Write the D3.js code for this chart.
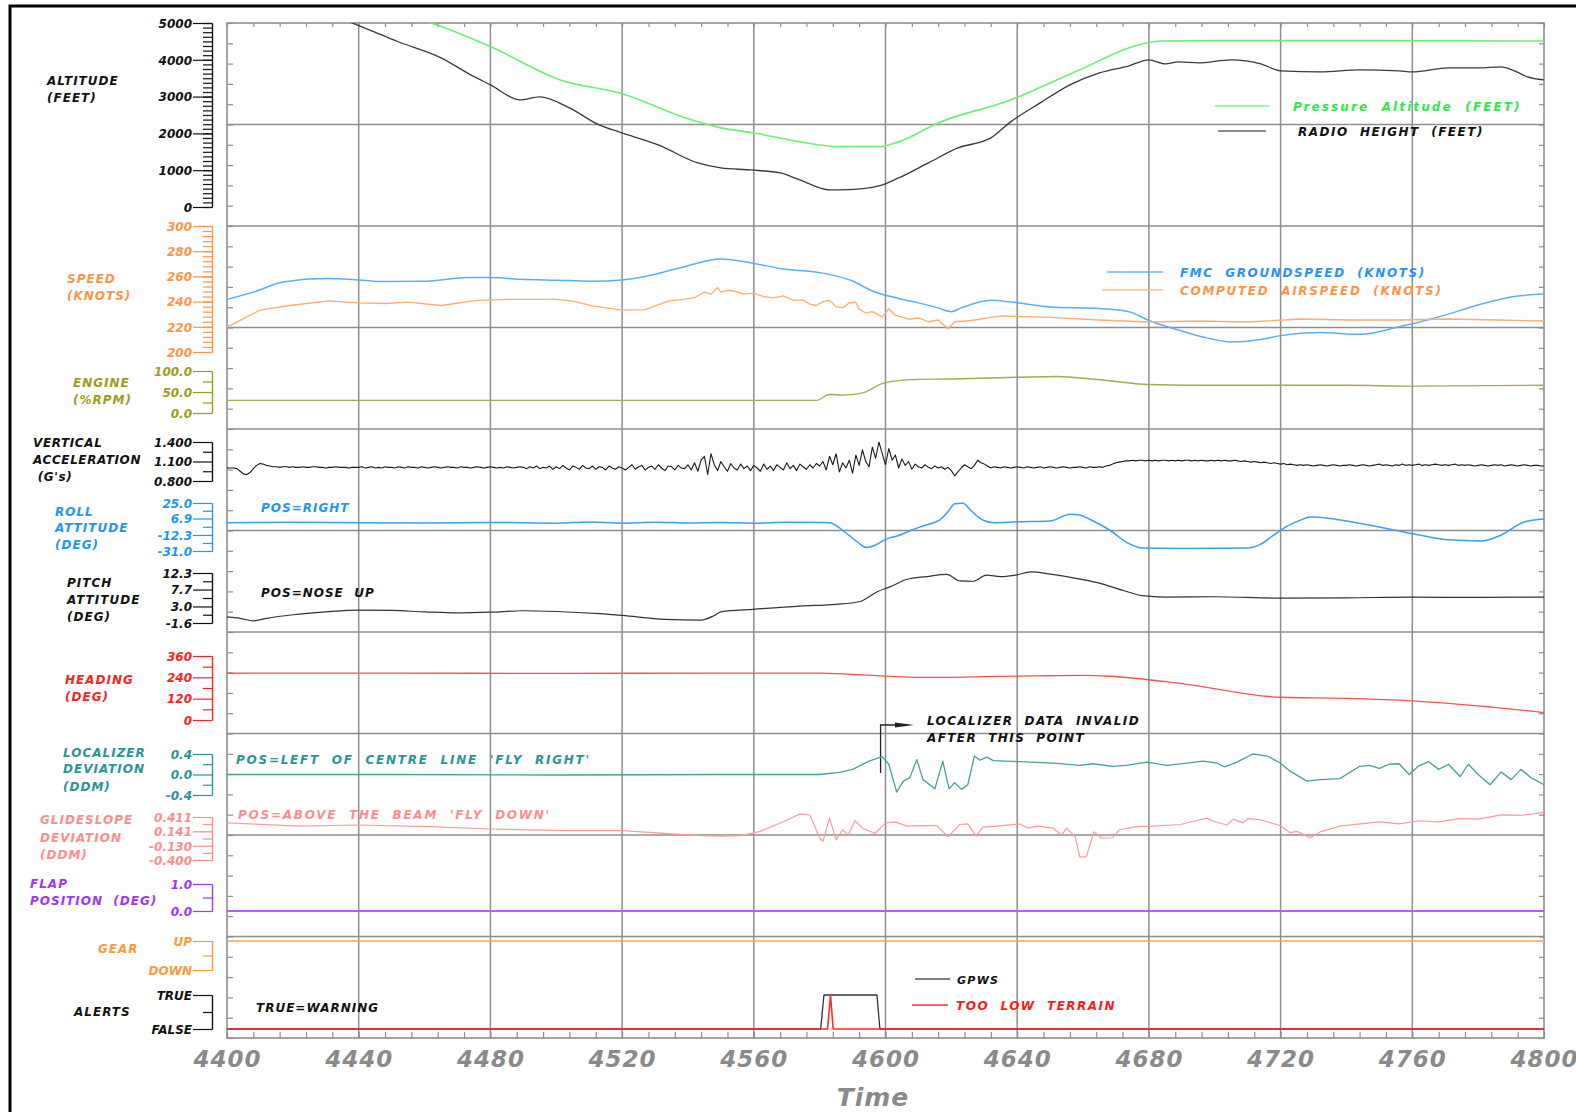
<!DOCTYPE html>
<html>
<head>
<meta charset="utf-8">
<script src="https://cdn.jsdelivr.net/npm/d3@7"></script>
<style>
body { margin: 0; background: #fff; }
svg text { font-family: "DejaVu Sans", sans-serif; font-weight: bold; font-style: italic; white-space: pre; }
</style>
</head>
<body>
<svg id="chart" width="1576" height="1112"></svg>
<script>
// ---------------------------------------
// Data
// ---------------------------------------
var timeLabels = [4400, 4440, 4480, 4520, 4560, 4600, 4640, 4680, 4720, 4760, 4800];

var pressureAlt = [[4400,6400],[4420,5900],[4440,5450],[4462,5000],[4480,4360],[4501,3460],[4520,3080],
    [4541,2370],[4550,2150],[4560,2010],[4574,1770],[4586,1640],[4598,1640],[4604,1770],[4616,2285],
    [4638,2910],[4659,3730],[4677,4410],[4684,4510],[4700,4520],[4750,4520],[4800,4510]];

var radioHeight = [[4400,6300],[4420,5650],[4438,5000],[4443,4820],[4452,4490],[4465,4054],[4474,3592],
    [4480,3320],[4489,2911],[4495,2993],[4504,2694],[4513,2231],[4519,2040],[4531,1687],[4543,1197],
    [4550,1061],[4559,1007],[4568,925],[4574,735],[4583,463],[4589,470],[4598,571],[4604,789],
    [4613,1197],[4622,1605],[4632,1877],[4638,2313],[4647,2830],[4656,3320],[4665,3646],[4674,3837],
    [4680,4000],[4685,3891],[4689,3945],[4695,3918],[4705,4000],[4714,3891],[4720,3700],[4732,3673],
    [4744,3728],[4756,3700],[4760,3673],[4771,3782],[4780,3782],[4787,3810],[4791,3700],[4795,3537],[4800,3456]];

var groundSpeed = [[4400,241.7],[4409,248.4],[4417,255.6],[4430,258.3],[4440,257.2],[4448,255.9],[4461,256.2],
    [4473,259.1],[4480,259.1],[4489,257.8],[4500,257],[4511,256.2],[4520,257.2],[4527,260],[4538,267.1],
    [4550,273.8],[4560,270.3],[4568,266.3],[4581,262.6],[4590,256.4],[4596,248.4],[4604,242.5],
    [4610,239],[4616,235],[4620,232],[4623,235],[4632,241],[4638,239.7],[4650,235.7],[4665,234.5],
    [4674,232],[4680,225],[4689,217.5],[4698,211],[4705,208],[4714,210],[4720,213],[4732,215.5],
    [4744,214],[4756,220],[4768,227.8],[4780,237.3],[4790,243.7],[4800,246]];

var airSpeed = [[4400,219.8],[4410,233.2],[4419,236.9],[4431,240.6],[4440,239],[4448,238.5],[4455,239.6],
    [4465,236.9],[4476,241],[4486,241.7],[4500,241.7],[4505,240.4],[4511,236.6],[4520,233.2],[4527,233.7],
    [4534,240.4],[4538,241.5],[4542,243.1],[4545,247.6],[4547,246],[4549,251.1],[4550,247.6],[4552,249],
    [4554,248.4],[4557,246],[4560,246.6],[4563,244],[4566,243],[4569,244.5],[4572,241],[4575,241.3],
    [4577,238],[4579,236.9],[4581,240],[4583,241],[4585,236],[4587,235],[4589,239],[4591,239.5],
    [4592,234],[4594,231],[4596,232],[4599,227.9],[4601,234.3],[4603,229],[4604,228.4],[4607,226],
    [4610,227],[4613,224],[4616,225.4],[4619,218.5],[4621,224],[4626,225],[4635,228.6],[4650,227.5],
    [4665,225.4],[4680,223.8],[4695,224.6],[4710,223.8],[4726,226.2],[4741,225.4],[4756,225.4],
    [4771,226.2],[4786,225.4],[4800,224.6]];

var engineRpm = [[4400,30],[4450,30],[4500,30],[4540,30],[4579,30],[4583,44],[4587,42.6],[4593,48],
    [4599,70],[4604,77],[4610,80],[4620,81],[4640,85],[4652,87],[4665,79],[4680,68],[4700,66],
    [4740,66],[4760,64],[4800,66]];

// vertical acceleration, one value per second from 4400 to 4800
var vertAccelStart = 4400;
var vertAccel = [
    1.00,1.00,1.00,0.99,0.95,0.91,0.90,0.93,0.99,1.04,1.07,1.06,1.04,1.03,1.02,1.02,1.01,1.02,1.02,1.01,
    1.02,1.01,1.01,1.02,1.01,1.01,1.02,1.02,1.01,1.01,1.00,1.01,1.01,1.02,1.01,1.01,1.01,1.00,1.01,1.01,
    1.01,1.02,1.00,1.01,1.02,1.00,1.01,1.00,1.02,1.01,1.01,1.00,1.02,1.01,1.00,1.02,1.01,1.01,1.00,1.02,
    1.01,1.00,1.01,1.02,1.01,1.00,1.01,1.02,1.01,1.01,1.00,1.02,1.01,1.01,1.00,1.01,1.02,1.01,1.00,1.01,
    1.02,1.01,1.00,1.01,1.00,1.02,1.01,1.00,1.01,1.02,1.01,0.99,1.02,1.00,1.03,0.99,1.01,1.00,1.03,0.98,
    1.02,0.99,1.04,1.00,0.97,1.03,1.01,0.98,1.04,1.00,0.99,1.03,0.98,1.02,1.01,0.97,1.03,1.00,0.98,1.02,
    1.00,0.97,1.01,1.05,0.98,1.02,1.04,0.97,1.01,1.03,0.98,1.05,1.00,0.96,1.03,1.02,0.97,1.04,1.00,0.99,
    1.05,0.97,1.08,0.95,1.12,1.18,0.90,1.22,1.05,0.96,1.10,1.02,0.95,1.07,1.00,0.97,1.06,0.99,1.03,0.96,
    1.04,1.00,0.95,1.06,0.98,1.03,0.96,1.05,1.01,0.97,1.08,0.99,1.04,0.96,1.06,1.02,0.98,1.05,1.00,1.07,
    1.03,1.10,0.97,1.18,1.05,1.22,0.94,1.08,1.00,1.12,0.92,1.20,1.04,1.28,1.10,1.02,1.32,1.15,1.40,1.22,
    1.05,1.30,1.12,1.20,1.00,1.14,1.04,1.10,0.98,1.06,1.02,1.00,1.05,1.01,0.99,1.03,1.00,1.02,0.98,1.01,
    0.96,0.88,0.94,1.00,1.05,1.02,0.99,1.04,1.12,1.08,1.06,1.03,1.00,1.02,1.01,1.00,1.02,1.01,1.00,1.01,
    1.02,1.01,1.00,1.02,1.01,1.00,1.01,1.02,1.00,1.01,1.02,1.01,1.00,1.01,1.02,1.01,1.00,1.01,1.01,1.02,
    1.01,1.00,1.02,1.01,1.01,1.02,1.01,1.03,1.04,1.06,1.08,1.09,1.10,1.11,1.11,1.12,1.11,1.12,1.12,1.11,
    1.12,1.11,1.12,1.11,1.12,1.12,1.11,1.12,1.11,1.12,1.11,1.12,1.12,1.11,1.12,1.11,1.12,1.11,1.11,1.12,
    1.11,1.12,1.11,1.12,1.11,1.11,1.12,1.11,1.10,1.11,1.10,1.09,1.10,1.09,1.08,1.09,1.08,1.07,1.08,1.07,
    1.06,1.07,1.05,1.06,1.05,1.04,1.05,1.04,1.05,1.04,1.03,1.04,1.05,1.04,1.03,1.04,1.05,1.04,1.03,1.04,
    1.04,1.05,1.04,1.03,1.04,1.05,1.04,1.03,1.04,1.05,1.06,1.04,1.05,1.04,1.03,1.05,1.04,1.06,1.04,1.05,
    1.04,1.05,1.06,1.04,1.05,1.04,1.05,1.06,1.05,1.04,1.05,1.04,1.05,1.06,1.04,1.05,1.04,1.05,1.04,1.03,
    1.04,1.05,1.04,1.03,1.04,1.05,1.04,1.05,1.03,1.04,1.05,1.04,1.03,1.04,1.05,1.04,1.03,1.04,1.04,1.03,
    1.03];

var rollAtt = [[4400,2],[4420,2.5],[4440,2],[4460,1.8],[4480,2.3],[4500,1.5],[4510,2.8],[4520,1.5],
    [4530,2.5],[4540,1.8],[4550,2.3],[4560,1.5],[4570,2.5],[4580,2.2],[4583,2],[4588,-10],[4592,-22],
    [4594,-27],[4597,-24],[4600,-17.4],[4604,-13],[4608,-6.5],[4612,-1],[4616.5,5.2],[4619,15],
    [4621,24],[4623.5,24.8],[4626,16],[4629.5,5.2],[4633,2],[4640,3],[4650,4],[4656,12],[4659,11],
    [4662,6],[4668,-6.5],[4674,-22.5],[4678,-27.5],[4690,-28],[4710,-27.5],[4714,-23],[4718,-12.3],
    [4722,-2],[4726,5],[4729,8.7],[4735,7],[4740,4],[4750,-3],[4762,-12.3],[4771,-18],[4781,-19.3],
    [4787,-12.3],[4794,2.8],[4800,6.3]];

var pitchAtt = [[4400,0.1],[4404,-0.3],[4408,-1.0],[4412,-0.3],[4420,0.7],[4430,1.5],[4440,2.0],[4450,1.9],
    [4460,1.5],[4470,1.2],[4480,1.4],[4490,1.8],[4500,1.6],[4513,1.0],[4520,0.5],[4533,-0.6],[4544,-0.8],
    [4548,0.5],[4550,1.5],[4560,2.2],[4574,3.1],[4585,3.6],[4592,4.3],[4597.5,7.1],[4601.5,8.5],
    [4606.4,10.5],[4612.5,11.3],[4618.6,11.9],[4622.6,10.1],[4626.6,10],[4630.7,11.7],[4635,11.3],
    [4640,11.8],[4644,12.6],[4650,12],[4655,11.3],[4665,9.5],[4672,7.5],[4678,6.0],[4685,5.6],
    [4700,5.7],[4720,5.3],[4740,5.4],[4760,5.6],[4780,5.5],[4800,5.6]];

var heading = [[4400,263],[4450,264],[4500,262],[4550,264],[4580,264],[4590,256],[4600,247],[4610,240],
    [4620,240],[4630,244],[4645,248],[4660,251],[4668,246],[4690,205],[4720,128],[4740,122],
    [4760,108],[4780,80],[4800,42]];

var locDev = [[4400,0],[4450,0],[4500,-0.01],[4550,0],[4580,0],[4586,0.04],[4590,0.1],[4595,0.26],
    [4599,0.35],[4601,0.2],[4603.4,-0.345],[4605.4,-0.13],[4607.4,-0.06],[4609.5,0.29],[4611.4,-0.1],
    [4615,-0.28],[4617.4,0.26],[4619.3,-0.28],[4621,-0.16],[4623.1,-0.29],[4625,-0.2],[4627,0.36],
    [4628.7,0.28],[4630.8,0.34],[4632.7,0.27],[4640.8,0.25],[4651,0.22],[4659,0.18],[4663,0.21],
    [4669,0.16],[4673,0.18],[4679.4,0.24],[4685.5,0.18],[4691.6,0.22],[4696.5,0.26],[4700.7,0.22],
    [4703,0.15],[4706.7,0.24],[4711.6,0.4],[4716,0.36],[4719.8,0.23],[4723,0.06],[4728,-0.13],
    [4732,-0.1],[4738,-0.08],[4744,0.16],[4747,0.18],[4750,0.12],[4753,0.2],[4756,0.21],[4759,0.0],
    [4762,0.17],[4765,0.25],[4768,0.1],[4771,0.2],[4774.5,-0.04],[4777,0.2],[4780,0.0],[4783.6,-0.2],
    [4787,0.05],[4790,-0.1],[4793,0.1],[4796,-0.06],[4800,-0.2]];

var gsDev = [[4400,0.30],[4422,0.24],[4440,0.26],[4462,0.23],[4480,0.185],[4503,0.153],[4520,0.153],
    [4533,0.103],[4544,0.06],[4550,0.05],[4556,0.06],[4562,0.14],[4570,0.35],[4574,0.47],[4577,0.45],
    [4580,0.02],[4581,-0.05],[4583,0.39],[4585,-0.02],[4587,0.17],[4588.7,0.07],[4590.7,0.34],
    [4593,0.2],[4596.8,0.10],[4600,0.30],[4603,0.32],[4606.5,0.24],[4611,0.25],[4615.5,0.25],
    [4619,0.04],[4622.6,0.27],[4625,0.28],[4627.5,0.05],[4629.6,0.22],[4633.8,0.24],[4640.8,0.28],
    [4643.3,0.2],[4646,0.24],[4651,0.2],[4653.5,0.07],[4655,0.2],[4657.6,0.04],[4659,-0.34],
    [4661,-0.34],[4663.3,0.135],[4665.7,0.01],[4669,0.02],[4671,0.17],[4676.4,0.23],[4681,0.24],
    [4689.5,0.27],[4697.6,0.39],[4699.5,0.33],[4703.7,0.26],[4705.6,0.37],[4708.6,0.3],[4710,0.38],
    [4713.7,0.36],[4719.8,0.25],[4722.9,0.115],[4725,0.14],[4729,0.02],[4732,0.13],[4738,0.24],
    [4750,0.32],[4756,0.28],[4762,0.34],[4768,0.32],[4774,0.38],[4780,0.37],[4787,0.45],[4793,0.44],
    [4800,0.5]];

var flapPos = [[4400,0],[4800,0]];
var gearPos = [[4400,1],[4800,1]];
var gpws = [[4400,0],[4580.3,0],[4581.3,1],[4597.4,1],[4598.3,0],[4800,0]];
var tooLowTerrain = [[4400,0],[4582.4,0],[4583.3,1],[4584.1,0],[4800,0]];

// tick values of the left hand scales
var altTicks = [0, 1000, 2000, 3000, 4000, 5000];
var speedTicks = [200, 220, 240, 260, 280, 300];
var engineTicks = [0, 50, 100];
var vaTicks = [0.8, 1.1, 1.4];
var rollTicks = [-31, -12.3, 6.9, 25];
var pitchTicks = [-1.6, 3.0, 7.7, 12.3];
var headingTicks = [0, 120, 240, 360];
var locTicks = [-0.4, 0, 0.4];
var gsTicks = [-0.4, -0.13, 0.141, 0.411];
var flapTicks = [0, 1];
var gearLabels = ['DOWN', 'UP'];
var alertLabels = ['FALSE', 'TRUE'];

// ---------------------------------------
// Layout
// ---------------------------------------
var X0 = 227, X1 = 1544, Y0 = 23, Y1 = 1038, AXX = 212;
var svg = d3.select('#chart');

var x = d3.scaleLinear().domain([4400, 4800]).range([X0, X1]);
var rows = d3.scaleLinear().domain([0, 50]).range([Y1, Y0]);

// one y scale per trace band
var yAlt = d3.scaleLinear().domain([0, 5000]).range([207, 23]);
var ySpeed = d3.scaleLinear().domain([200, 300]).range([352, 226]);
var yEngine = d3.scaleLinear().domain([0, 100]).range([413, 371]);
var yVa = d3.scaleLinear().domain([0.8, 1.4]).range([481, 442]);
var yRoll = d3.scaleLinear().domain([-31, 25]).range([551, 503]);
var yPitch = d3.scaleLinear().domain([-1.6, 12.3]).range([623, 573]);
var yHeading = d3.scaleLinear().domain([0, 360]).range([720, 656]);
var yLoc = d3.scaleLinear().domain([-0.4, 0.4]).range([795, 754]);
var yGs = d3.scaleLinear().domain([-0.4, 0.411]).range([860, 817]);
var yFlap = d3.scaleLinear().domain([0, 1]).range([911, 884]);
var yGear = d3.scaleLinear().domain([0, 1]).range([970, 941]);
var yAlert = d3.scaleLinear().domain([0, 1]).range([1029, 995]);

var GRID = '#8e8e8e';

// outer border
svg.append('rect').attr('x', 10).attr('y', 6).attr('width', 1620).attr('height', 1200)
    .attr('fill', 'none').attr('stroke', '#000').attr('stroke-width', 3);

svg.append('clipPath').attr('id', 'clip').append('rect')
    .attr('x', X0).attr('y', Y0).attr('width', X1 - X0).attr('height', Y1 - Y0);

// grid
var grid = svg.append('g');
grid.selectAll('line.v').data(timeLabels.slice(1, -1)).enter().append('line')
    .attr('x1', d => x(d)).attr('x2', d => x(d)).attr('y1', Y0).attr('y2', Y1)
    .attr('stroke', GRID).attr('stroke-width', 1.5);
grid.selectAll('line.h').data(d3.range(5, 50, 5)).enter().append('line')
    .attr('x1', X0).attr('x2', X1).attr('y1', d => rows(d)).attr('y2', d => rows(d))
    .attr('stroke', GRID).attr('stroke-width', 1.5);

// frame ticks
function frameAxis(axis, tx, ty) {
    var g = svg.append('g').attr('transform', 'translate(' + tx + ',' + ty + ')').call(axis);
    g.select('.domain').remove();
    g.selectAll('line').attr('stroke', GRID).attr('stroke-width', 1.2);
    return g;
}
var fr = d3.range(0, 51);
frameAxis(d3.axisLeft(rows).tickValues(fr).tickSize(-6).tickFormat(''), X0, 0);
frameAxis(d3.axisRight(rows).tickValues(fr).tickSize(-5).tickFormat(''), X1, 0);
frameAxis(d3.axisTop(x).tickValues(d3.range(4400, 4801, 8)).tickSize(-4).tickFormat(''), 0, Y0);
var xg = frameAxis(d3.axisBottom(x).tickValues(d3.range(4400, 4801, 8)).tickSize(-6).tickPadding(13)
    .tickFormat(d => timeLabels.indexOf(d) >= 0 ? d : ''), 0, Y1);
xg.attr('font-size', 23);
xg.selectAll('text').attr('fill', '#8a8a8a').style('letter-spacing', '1px');

svg.append('rect').attr('x', X0).attr('y', Y0).attr('width', X1 - X0).attr('height', Y1 - Y0)
    .attr('fill', 'none').attr('stroke', GRID).attr('stroke-width', 1.6);

svg.append('text').attr('x', 873).attr('y', 1106).attr('text-anchor', 'middle')
    .attr('font-size', 25).attr('fill', '#8a8a8a').style('letter-spacing', '1px').text('Time');

// bracket style scales on the left
function bracket(scale, majors, minors, fmt, color) {
    var g1 = svg.append('g').attr('transform', 'translate(' + AXX + ',0)')
        .call(d3.axisLeft(scale).tickValues(minors).tickSize(9).tickSizeOuter(0).tickFormat(''));
    var g2 = svg.append('g').attr('transform', 'translate(' + AXX + ',0)')
        .call(d3.axisLeft(scale).tickValues(majors).tickSize(19).tickPadding(1).tickSizeOuter(0).tickFormat(fmt));
    [g1, g2].forEach(g => {
        g.selectAll('path, line').attr('stroke', color).attr('stroke-width', 1.2);
        g.attr('font-size', 12);
        g.selectAll('text').attr('fill', color).attr('dy', '0.36em');
    });
}
function mids(t) {
    var m = [];
    for (var i = 1; i < t.length; i++) m.push((t[i - 1] + t[i]) / 2);
    return m;
}
var fx = n => (d => d.toFixed(n));

var C = {
    black: '#111', alt: '#111', green: '#2ee84a', speed: '#ff9448', engine: '#9c9c1c',
    roll: '#2196f3', heading: '#ff2020', loc: '#2a9494', gs: '#ff8c8c', flap: '#9d35ff',
    gear: '#ff9a3c'
};

bracket(yAlt, altTicks, d3.range(0, 5001, 125), d3.format('d'), C.alt);
bracket(ySpeed, speedTicks, d3.range(200, 301, 4), d3.format('d'), C.speed);
bracket(yEngine, engineTicks, mids(engineTicks), fx(1), C.engine);
bracket(yVa, vaTicks, mids(vaTicks), fx(3), C.black);
bracket(yRoll, rollTicks, mids(rollTicks), fx(1), C.roll);
bracket(yPitch, pitchTicks, mids(pitchTicks), fx(1), C.black);
bracket(yHeading, headingTicks, mids(headingTicks), d3.format('d'), C.heading);
bracket(yLoc, locTicks, mids(locTicks), fx(1), C.loc);
bracket(yGs, gsTicks, mids(gsTicks), fx(3), C.gs);
bracket(yFlap, flapTicks, mids(flapTicks), fx(1), C.flap);
bracket(yGear, [0, 1], [0.5], d => gearLabels[d], C.gear);
bracket(yAlert, [0, 1], [0.5], d => alertLabels[d], C.black);

// titles of the bands
function label(lines, lx, ly, color, size, spacing) {
    lines.forEach((s, i) => {
        svg.append('text').attr('x', lx).attr('y', ly[i]).attr('fill', color)
            .attr('font-size', size || 12).attr('xml:space', 'preserve')
            .style('letter-spacing', (spacing === undefined ? 1 : spacing) + 'px').text(s);
    });
}
label(['ALTITUDE', '(FEET)'], 47, [85, 102], C.black);
label(['SPEED', '(KNOTS)'], 67, [283, 300], C.speed);
label(['ENGINE', '(%RPM)'], 73, [387, 404], C.engine);
label(['VERTICAL', 'ACCELERATION', ' (G\'s)'], 33, [447, 464, 481], C.black, 12, 0.6);
label(['ROLL', 'ATTITUDE', '(DEG)'], 55, [516, 532, 549], C.roll);
label(['PITCH', 'ATTITUDE', '(DEG)'], 67, [587, 604, 621], C.black);
label(['HEADING', '(DEG)'], 65, [684, 701], C.heading);
label(['LOCALIZER', 'DEVIATION', '(DDM)'], 63, [757, 773, 791], C.loc);
label(['GLIDESLOPE', 'DEVIATION', '(DDM)'], 40, [824, 842, 859], C.gs);
label(['FLAP', 'POSITION  (DEG)'], 30, [888, 905], C.flap);
label(['GEAR'], 98, [953], C.gear);
label(['ALERTS'], 74, [1016], C.black);

// notes inside the plot
label(['POS=RIGHT'], 261, [512], C.roll);
label(['POS=NOSE  UP'], 261, [597], C.black);
label(['POS=LEFT  OF  CENTRE  LINE  \'FLY  RIGHT\''], 236, [764], C.loc, 12, 1.75);
label(['POS=ABOVE  THE  BEAM  \'FLY  DOWN\''], 238, [819], C.gs, 12, 1.75);
label(['TRUE=WARNING'], 256, [1012], C.black);
label(['LOCALIZER  DATA  INVALID', 'AFTER  THIS  POINT'], 927, [725, 742], C.black, 12, 1.4);

// arrow to "localizer data invalid"
svg.append('path').attr('d', 'M' + x(4598.5) + ',773V725H905').attr('fill', 'none')
    .attr('stroke', '#222').attr('stroke-width', 1.3);
svg.append('path').attr('d', 'M895,722.5L914,725L895,727.5Z').attr('fill', '#222');

// legends
function legend(lx1, lx2, ly, color, text, tx, size, lineColor, spacing) {
    svg.append('line').attr('x1', lx1).attr('x2', lx2).attr('y1', ly).attr('y2', ly)
        .attr('stroke', lineColor || color).attr('stroke-width', 1.5);
    label([text], tx, [ly + 5], color, size || 12, spacing || 1.3);
}
legend(1215, 1269, 106, C.green, 'Pressure  Altitude  (FEET)', 1293, 12, '#7ef08a', 2.1);
legend(1218, 1266, 131, C.black, 'RADIO  HEIGHT  (FEET)', 1298, 12, '#666', 1.5);
legend(1107, 1163, 272, '#2592ff', 'FMC  GROUNDSPEED  (KNOTS)', 1180, 12, '#6ab4ff', 1.6);
legend(1102, 1163, 290, C.speed, 'COMPUTED  AIRSPEED  (KNOTS)', 1180, 12, '#ffbe8a', 1.7);
legend(915, 950, 979, C.black, 'GPWS', 957, 11, '#555');
legend(912, 948, 1005, '#ff1a1a', 'TOO  LOW  TERRAIN', 956, 12, '#ff3030', 1.5);

// traces
var plot = svg.append('g').attr('clip-path', 'url(#clip)');
function trace(data, scale, color, width, curve) {
    var line = d3.line().x(d => x(d[0])).y(d => scale(d[1])).curve(curve || d3.curveLinear);
    plot.append('path').datum(data).attr('d', line).attr('fill', 'none')
        .attr('stroke', color).attr('stroke-width', width || 1.4).attr('stroke-linejoin', 'round');
}
var smooth = d3.curveMonotoneX;
trace(pressureAlt, yAlt, '#6cee78', 1.6, smooth);
trace(radioHeight, yAlt, '#3a3a3a', 1.3, smooth);
trace(groundSpeed, ySpeed, '#5aaeff', 1.5, smooth);
trace(airSpeed, ySpeed, '#ffac70', 1.3);
trace(engineRpm, yEngine, '#a8a850', 1.4, smooth);
trace(vertAccel.map((v, i) => [vertAccelStart + i, v]), yVa, '#1a1a1a', 1.1);
trace(rollAtt, yRoll, '#3a9eff', 1.5, smooth);
trace(pitchAtt, yPitch, '#333', 1.2, smooth);
trace(heading, yHeading, '#ff5050', 1.3, smooth);
trace(locDev, yLoc, '#4a9e9e', 1.3);
trace(gsDev, yGs, '#ff9a9a', 1.2);
trace(flapPos, yFlap, '#b060ff', 2);
trace(gearPos, yGear, '#ffa04a', 1.5);
trace(gpws, yAlert, '#333', 1.3);
trace(tooLowTerrain, yAlert, '#ff2a2a', 1.6);
</script>
</body>
</html>
